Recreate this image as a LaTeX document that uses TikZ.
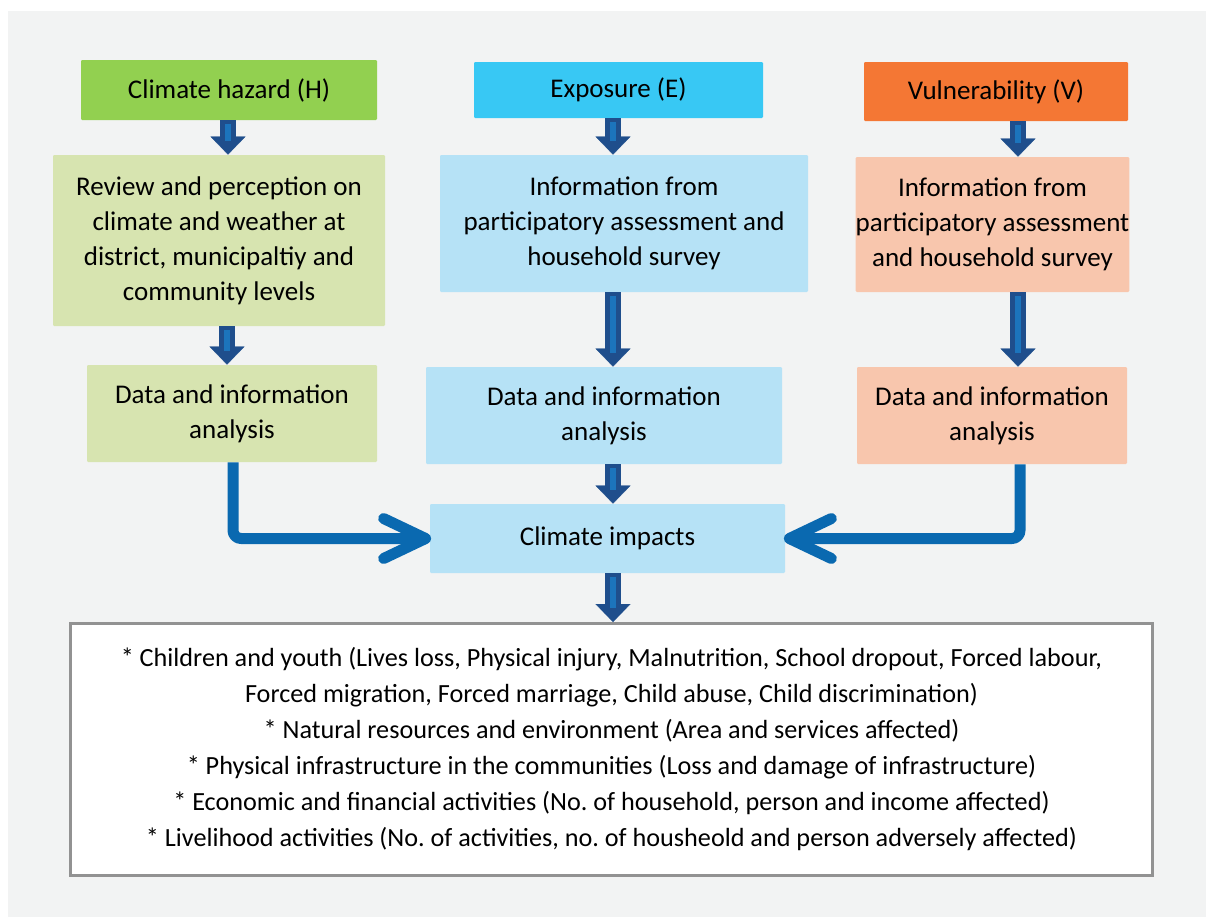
\documentclass[tikz,border=0pt]{standalone}
\usepackage{fontspec}
\setmainfont{Carlito}
\usetikzlibrary{arrows.meta,calc}
\definecolor{bg}{HTML}{F2F3F3}
\definecolor{cH}{HTML}{92D050}
\definecolor{cE}{HTML}{38C8F4}
\definecolor{cV}{HTML}{F47734}
\definecolor{lH}{HTML}{D7E4B0}
\definecolor{lE}{HTML}{B6E2F6}
\definecolor{lV}{HTML}{F8C6AD}
\definecolor{adark}{HTML}{1F4E8C}
\definecolor{alight}{HTML}{1C74BC}
\definecolor{aelb}{HTML}{0A69B0}
\definecolor{bgray}{HTML}{929292}
\frenchspacing
\begin{document}
\begin{tikzpicture}[x=0.5pt,y=-0.5pt,
  box/.style={draw=none, inner sep=0pt, align=center, rounded corners=0.6pt,
    font=\fontsize{13.5}{17.5}\selectfont},
  barrow/.style={draw=adark, line width=8pt,
    -{Triangle[width=17.5pt,length=9pt,line width=0.1pt]},
    postaction={draw=alight, line width=3pt, shorten <=2pt, shorten >=7pt, -}},
  elbow/.style={draw=aelb, line width=5.5pt, line join=round, rounded corners=4pt},
  chev/.style={draw=aelb, line width=5.5pt, line join=round, line cap=round}]
\fill[white] (0,0) rectangle (1206,917);
\fill[bg] (8,11) rectangle (1206,917);
\useasboundingbox (0,0) rectangle (1206,917);

% top row
\node[box, fill=cH, minimum width=148pt, minimum height=30pt] (hz) at (229,90) {Climate hazard (H)};
\node[box, fill=cE, minimum width=144.5pt, minimum height=28pt] (ex) at (618.5,90) {Exposure (E)};
\node[box, fill=cV, minimum width=132pt, minimum height=29.5pt] (vu) at (996,91.5) {Vulnerability (V)};

% second row
\node[box, fill=lH, minimum width=166pt, minimum height=85.5pt] (rev) at (219,240.5)
  {Review and perception on\\climate and weather at\\district, municipaltiy and\\community levels};
\node[box, fill=lE, minimum width=184pt, minimum height=68.5pt] (ie) at (624,223.5)
  {Information from\\participatory assessment and\\household survey};
\node[box, fill=lV, minimum width=135.5pt, minimum height=67.5pt] (iv) at (992.5,224.5)
  {Information from\\participatory assessment\\and household survey};

% third row
\node[box, fill=lH, minimum width=145pt, minimum height=48.5pt] (dh) at (232,413.5)
  {Data and information\\analysis};
\node[box, fill=lE, minimum width=178pt, minimum height=48.5pt] (de) at (604,415.5)
  {Data and information\\analysis};
\node[box, fill=lV, minimum width=135pt, minimum height=48.5pt] (dv) at (992,415.5)
  {Data and information\\analysis};

% impacts
\node[box, fill=lE, minimum width=177.5pt, minimum height=34.5pt] (imp) at (607.5,538.5) {Climate impacts};

% bottom box
\node[box, rounded corners=0pt, draw=bgray, line width=1.5pt, fill=white, minimum width=541pt, minimum height=126pt,
  font=\fontsize{13.1}{18}\selectfont] (res) at (611.5,749.5)
  {* Children and youth (Lives loss, Physical injury, Malnutrition, School dropout, Forced labour,\\
   Forced migration, Forced marriage, Child abuse, Child discrimination)\\
   * Natural resources and environment (Area and services affected)\\
   * Physical infrastructure in the communities (Loss and damage of infrastructure)\\
   * Economic and financial activities (No. of household, person and income affected)\\
   * Livelihood activities (No. of activities, no. of housheold and person adversely affected)};

% arrow columns
\coordinate (cH1) at (228,0);
\coordinate (cH2) at (227,0);
\coordinate (cE) at (613,0);
\coordinate (cV) at (1018,0);

% block arrows
\draw[barrow] (hz.south -| cH1) -- (rev.north -| cH1);
\draw[barrow] (rev.south -| cH2) -- (dh.north -| cH2);
\draw[barrow] (ex.south -| cE) -- (ie.north -| cE);
\draw[barrow] (ie.south -| cE) -- (de.north -| cE);
\draw[barrow] (de.south -| cE) -- (imp.north -| cE);
\draw[barrow] (imp.south -| cE) -- (res.north -| cE);
\draw[barrow] (vu.south -| cV) -- (iv.north -| cV);
\draw[barrow] (iv.south -| cV) -- (dv.north -| cV);

% elbow arrows
\coordinate (dhS) at ($(dh.south)+(1,0)$);
\coordinate (dvS) at ($(dv.south)+(28,0)$);
\coordinate (impL) at ($(imp.west)+(-4,0)$);
\coordinate (impR) at ($(imp.east)+(4,0)$);
\draw[elbow] (dhS) |- (impL);
\draw[chev] ($(impL)+(-42,-20)$) -- (impL) -- ($(impL)+(-42,20)$);
\draw[elbow] (dvS) |- (impR);
\draw[chev] ($(impR)+(42,-20)$) -- (impR) -- ($(impR)+(42,20)$);
\end{tikzpicture}
\end{document}
